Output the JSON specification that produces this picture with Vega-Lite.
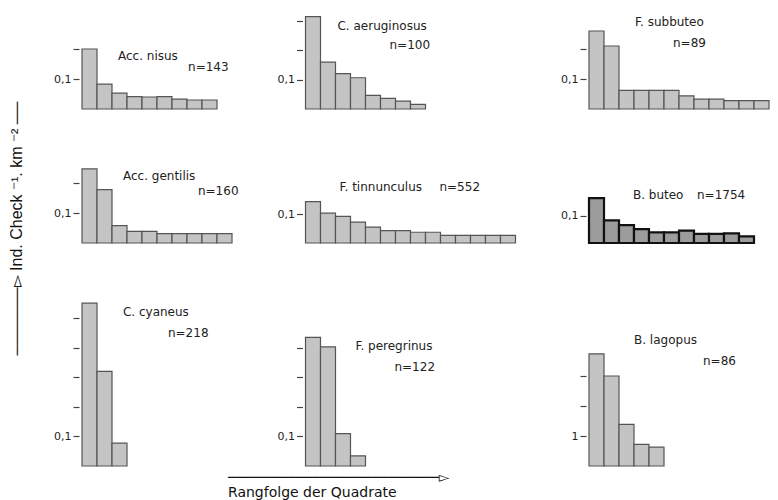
{
  "$schema": "https://vega.github.io/schema/vega-lite/v6.json",
  "background": "white",
  "padding": {"left": 8, "top": 10, "right": 5, "bottom": 2},
  "config": {
    "view": {"stroke": null},
    "font": "DejaVu Sans",
    "axis": {"domain": false, "grid": false, "tickColor": "#444", "tickSize": 6, "tickWidth": 1.2, "labelFont": "DejaVu Sans", "labelFontSize": 11, "labelColor": "#222", "labelPadding": 2, "offset": 3},
    "text": {"font": "DejaVu Sans", "fontSize": 12, "color": "#222", "align": "left", "baseline": "alphabetic"},
    "bar": {"fill": "#c4c4c4", "stroke": "#555", "strokeWidth": 1.2}
  },
  "datasets": {
    "bars": [
      {"sp": "Acc. nisus", "rank": 1, "v": 0.2},
      {"sp": "Acc. nisus", "rank": 2, "v": 0.083},
      {"sp": "Acc. nisus", "rank": 3, "v": 0.053},
      {"sp": "Acc. nisus", "rank": 4, "v": 0.041},
      {"sp": "Acc. nisus", "rank": 5, "v": 0.04},
      {"sp": "Acc. nisus", "rank": 6, "v": 0.041},
      {"sp": "Acc. nisus", "rank": 7, "v": 0.033},
      {"sp": "Acc. nisus", "rank": 8, "v": 0.03},
      {"sp": "Acc. nisus", "rank": 9, "v": 0.03},
      {"sp": "C. aeruginosus", "rank": 1, "v": 0.313},
      {"sp": "C. aeruginosus", "rank": 2, "v": 0.159},
      {"sp": "C. aeruginosus", "rank": 3, "v": 0.12},
      {"sp": "C. aeruginosus", "rank": 4, "v": 0.106},
      {"sp": "C. aeruginosus", "rank": 5, "v": 0.046},
      {"sp": "C. aeruginosus", "rank": 6, "v": 0.036},
      {"sp": "C. aeruginosus", "rank": 7, "v": 0.027},
      {"sp": "C. aeruginosus", "rank": 8, "v": 0.016},
      {"sp": "F. subbuteo", "rank": 1, "v": 0.26},
      {"sp": "F. subbuteo", "rank": 2, "v": 0.21},
      {"sp": "F. subbuteo", "rank": 3, "v": 0.062},
      {"sp": "F. subbuteo", "rank": 4, "v": 0.062},
      {"sp": "F. subbuteo", "rank": 5, "v": 0.062},
      {"sp": "F. subbuteo", "rank": 6, "v": 0.062},
      {"sp": "F. subbuteo", "rank": 7, "v": 0.044},
      {"sp": "F. subbuteo", "rank": 8, "v": 0.033},
      {"sp": "F. subbuteo", "rank": 9, "v": 0.033},
      {"sp": "F. subbuteo", "rank": 10, "v": 0.028},
      {"sp": "F. subbuteo", "rank": 11, "v": 0.028},
      {"sp": "F. subbuteo", "rank": 12, "v": 0.028},
      {"sp": "Acc. gentilis", "rank": 1, "v": 0.247},
      {"sp": "Acc. gentilis", "rank": 2, "v": 0.178},
      {"sp": "Acc. gentilis", "rank": 3, "v": 0.058},
      {"sp": "Acc. gentilis", "rank": 4, "v": 0.039},
      {"sp": "Acc. gentilis", "rank": 5, "v": 0.039},
      {"sp": "Acc. gentilis", "rank": 6, "v": 0.031},
      {"sp": "Acc. gentilis", "rank": 7, "v": 0.031},
      {"sp": "Acc. gentilis", "rank": 8, "v": 0.031},
      {"sp": "Acc. gentilis", "rank": 9, "v": 0.031},
      {"sp": "Acc. gentilis", "rank": 10, "v": 0.031},
      {"sp": "F. tinnunculus", "rank": 1, "v": 0.143},
      {"sp": "F. tinnunculus", "rank": 2, "v": 0.103},
      {"sp": "F. tinnunculus", "rank": 3, "v": 0.092},
      {"sp": "F. tinnunculus", "rank": 4, "v": 0.072},
      {"sp": "F. tinnunculus", "rank": 5, "v": 0.055},
      {"sp": "F. tinnunculus", "rank": 6, "v": 0.043},
      {"sp": "F. tinnunculus", "rank": 7, "v": 0.043},
      {"sp": "F. tinnunculus", "rank": 8, "v": 0.037},
      {"sp": "F. tinnunculus", "rank": 9, "v": 0.037},
      {"sp": "F. tinnunculus", "rank": 10, "v": 0.026},
      {"sp": "F. tinnunculus", "rank": 11, "v": 0.026},
      {"sp": "F. tinnunculus", "rank": 12, "v": 0.026},
      {"sp": "F. tinnunculus", "rank": 13, "v": 0.026},
      {"sp": "F. tinnunculus", "rank": 14, "v": 0.026},
      {"sp": "B. buteo", "rank": 1, "v": 0.164},
      {"sp": "B. buteo", "rank": 2, "v": 0.083},
      {"sp": "B. buteo", "rank": 3, "v": 0.065},
      {"sp": "B. buteo", "rank": 4, "v": 0.051},
      {"sp": "B. buteo", "rank": 5, "v": 0.039},
      {"sp": "B. buteo", "rank": 6, "v": 0.039},
      {"sp": "B. buteo", "rank": 7, "v": 0.045},
      {"sp": "B. buteo", "rank": 8, "v": 0.033},
      {"sp": "B. buteo", "rank": 9, "v": 0.033},
      {"sp": "B. buteo", "rank": 10, "v": 0.035},
      {"sp": "B. buteo", "rank": 11, "v": 0.024},
      {"sp": "C. cyaneus", "rank": 1, "v": 0.55},
      {"sp": "C. cyaneus", "rank": 2, "v": 0.32},
      {"sp": "C. cyaneus", "rank": 3, "v": 0.077},
      {"sp": "F. peregrinus", "rank": 1, "v": 0.436},
      {"sp": "F. peregrinus", "rank": 2, "v": 0.404},
      {"sp": "F. peregrinus", "rank": 3, "v": 0.11},
      {"sp": "F. peregrinus", "rank": 4, "v": 0.034},
      {"sp": "B. lagopus", "rank": 1, "v": 3.74},
      {"sp": "B. lagopus", "rank": 2, "v": 3.0},
      {"sp": "B. lagopus", "rank": 3, "v": 1.39},
      {"sp": "B. lagopus", "rank": 4, "v": 0.72},
      {"sp": "B. lagopus", "rank": 5, "v": 0.63}
    ],
    "labels": [
      {"sp": "Acc. nisus", "n": "n=143"},
      {"sp": "C. aeruginosus", "n": "n=100"},
      {"sp": "F. subbuteo", "n": "n=89"},
      {"sp": "Acc. gentilis", "n": "n=160"},
      {"sp": "F. tinnunculus", "n": "n=552"},
      {"sp": "B. buteo", "n": "n=1754"},
      {"sp": "C. cyaneus", "n": "n=218"},
      {"sp": "F. peregrinus", "n": "n=122"},
      {"sp": "B. lagopus", "n": "n=86"}
    ]
  },
  "columns": 3,
  "align": "each",
  "bounds": "flush",
  "spacing": {"row": 56, "column": 43.5},
  "concat": [
    {
      "width": 180, "height": 99,
      "resolve": {"scale": {"x": "independent"}},
      "layer": [
        {"data": {"name": "bars"}, "transform": [{"filter": "datum.sp === 'Acc. nisus'"}], "mark": "bar",
         "encoding": {
           "x": {"field": "rank", "type": "ordinal", "scale": {"domain": [1,2,3,4,5,6,7,8,9,10,11,12], "paddingInner": 0, "paddingOuter": 0}, "axis": null},
           "y": {"field": "v", "type": "quantitative", "scale": {"domain": [0, 0.33], "nice": false}, "axis": {"title": null, "values": [0.1, 0.2], "labelExpr": "datum.value === 0.1 ? '0,1' : ''"}}}},
        {"data": {"name": "labels"}, "transform": [{"filter": "datum.sp === 'Acc. nisus'"}], "mark": "text",
         "encoding": {"text": {"field": "sp"}, "x": {"datum": 2.4, "type": "quantitative", "scale": {"domain": [0, 12]}, "axis": null}, "y": {"datum": 0.162, "type": "quantitative"}}},
        {"data": {"name": "labels"}, "transform": [{"filter": "datum.sp === 'Acc. nisus'"}], "mark": "text",
         "encoding": {"text": {"field": "n"}, "x": {"datum": 7.07, "type": "quantitative", "scale": {"domain": [0, 12]}, "axis": null}, "y": {"datum": 0.127, "type": "quantitative"}}}
      ]
    },
    {
      "width": 240, "height": 99,
      "resolve": {"scale": {"x": "independent"}},
      "layer": [
        {"data": {"name": "bars"}, "transform": [{"filter": "datum.sp === 'C. aeruginosus'"}], "mark": "bar",
         "encoding": {
           "x": {"field": "rank", "type": "ordinal", "scale": {"domain": [1,2,3,4,5,6,7,8,9,10,11,12,13,14,15,16], "paddingInner": 0, "paddingOuter": 0}, "axis": null},
           "y": {"field": "v", "type": "quantitative", "scale": {"domain": [0, 0.3356], "nice": false}, "axis": {"title": null, "values": [0.1, 0.2, 0.3], "labelExpr": "datum.value === 0.1 ? '0,1' : ''"}}}},
        {"data": {"name": "labels"}, "transform": [{"filter": "datum.sp === 'C. aeruginosus'"}], "mark": "text",
         "encoding": {"text": {"field": "sp"}, "x": {"datum": 2.13, "type": "quantitative", "scale": {"domain": [0, 16]}, "axis": null}, "y": {"datum": 0.269, "type": "quantitative"}}},
        {"data": {"name": "labels"}, "transform": [{"filter": "datum.sp === 'C. aeruginosus'"}], "mark": "text",
         "encoding": {"text": {"field": "n"}, "x": {"datum": 5.6, "type": "quantitative", "scale": {"domain": [0, 16]}, "axis": null}, "y": {"datum": 0.204, "type": "quantitative"}}}
      ]
    },
    {
      "width": 180, "height": 99,
      "resolve": {"scale": {"x": "independent"}},
      "layer": [
        {"data": {"name": "bars"}, "transform": [{"filter": "datum.sp === 'F. subbuteo'"}], "mark": "bar",
         "encoding": {
           "x": {"field": "rank", "type": "ordinal", "scale": {"domain": [1,2,3,4,5,6,7,8,9,10,11,12], "paddingInner": 0, "paddingOuter": 0}, "axis": null},
           "y": {"field": "v", "type": "quantitative", "scale": {"domain": [0, 0.33], "nice": false}, "axis": {"title": null, "values": [0.1, 0.2], "labelExpr": "datum.value === 0.1 ? '0,1' : ''"}}}},
        {"data": {"name": "labels"}, "transform": [{"filter": "datum.sp === 'F. subbuteo'"}], "mark": "text",
         "encoding": {"text": {"field": "sp"}, "x": {"datum": 3.07, "type": "quantitative", "scale": {"domain": [0, 12]}, "axis": null}, "y": {"datum": 0.276, "type": "quantitative"}}},
        {"data": {"name": "labels"}, "transform": [{"filter": "datum.sp === 'F. subbuteo'"}], "mark": "text",
         "encoding": {"text": {"field": "n"}, "x": {"datum": 5.6, "type": "quantitative", "scale": {"domain": [0, 12]}, "axis": null}, "y": {"datum": 0.206, "type": "quantitative"}}}
      ]
    },
    {
      "width": 180, "height": 78,
      "resolve": {"scale": {"x": "independent"}},
      "layer": [
        {"data": {"name": "bars"}, "transform": [{"filter": "datum.sp === 'Acc. gentilis'"}], "mark": "bar",
         "encoding": {
           "x": {"field": "rank", "type": "ordinal", "scale": {"domain": [1,2,3,4,5,6,7,8,9,10,11,12], "paddingInner": 0, "paddingOuter": 0}, "axis": null},
           "y": {"field": "v", "type": "quantitative", "scale": {"domain": [0, 0.26], "nice": false}, "axis": {"title": "──────▻   Ind. Check ⁻¹. km ⁻²  ──", "titleFont": "Liberation Sans", "titleFontSize": 16, "titleFontWeight": "normal", "titleColor": "#111", "titlePadding": 29, "titleY": 63, "values": [0.1, 0.2], "labelExpr": "datum.value === 0.1 ? '0,1' : ''"}}}},
        {"data": {"name": "labels"}, "transform": [{"filter": "datum.sp === 'Acc. gentilis'"}], "mark": "text",
         "encoding": {"text": {"field": "sp"}, "x": {"datum": 2.73, "type": "quantitative", "scale": {"domain": [0, 12]}, "axis": null}, "y": {"datum": 0.211, "type": "quantitative"}}},
        {"data": {"name": "labels"}, "transform": [{"filter": "datum.sp === 'Acc. gentilis'"}], "mark": "text",
         "encoding": {"text": {"field": "n"}, "x": {"datum": 7.73, "type": "quantitative", "scale": {"domain": [0, 12]}, "axis": null}, "y": {"datum": 0.161, "type": "quantitative"}}}
      ]
    },
    {
      "width": 240, "height": 78,
      "resolve": {"scale": {"x": "independent"}},
      "layer": [
        {"data": {"name": "bars"}, "transform": [{"filter": "datum.sp === 'F. tinnunculus'"}], "mark": "bar",
         "encoding": {
           "x": {"field": "rank", "type": "ordinal", "scale": {"domain": [1,2,3,4,5,6,7,8,9,10,11,12,13,14,15,16], "paddingInner": 0, "paddingOuter": 0}, "axis": null},
           "y": {"field": "v", "type": "quantitative", "scale": {"domain": [0, 0.269], "nice": false}, "axis": {"title": null, "values": [0.1], "labelExpr": "datum.value === 0.1 ? '0,1' : ''"}}}},
        {"data": {"name": "labels"}, "transform": [{"filter": "datum.sp === 'F. tinnunculus'"}], "mark": "text",
         "encoding": {"text": {"field": "sp"}, "x": {"datum": 2.27, "type": "quantitative", "scale": {"domain": [0, 16]}, "axis": null}, "y": {"datum": 0.18, "type": "quantitative"}}},
        {"data": {"name": "labels"}, "transform": [{"filter": "datum.sp === 'F. tinnunculus'"}], "mark": "text",
         "encoding": {"text": {"field": "n"}, "x": {"datum": 8.93, "type": "quantitative", "scale": {"domain": [0, 16]}, "axis": null}, "y": {"datum": 0.18, "type": "quantitative"}}}
      ]
    },
    {
      "width": 180, "height": 78,
      "resolve": {"scale": {"x": "independent"}},
      "layer": [
        {"data": {"name": "bars"}, "transform": [{"filter": "datum.sp === 'B. buteo'"}], "mark": {"type": "bar", "fill": "#9c9c9c", "stroke": "#111", "strokeWidth": 2.2},
         "encoding": {
           "x": {"field": "rank", "type": "ordinal", "scale": {"domain": [1,2,3,4,5,6,7,8,9,10,11,12], "paddingInner": 0, "paddingOuter": 0}, "axis": null},
           "y": {"field": "v", "type": "quantitative", "scale": {"domain": [0, 0.285], "nice": false}, "axis": {"title": null, "values": [0.1], "labelExpr": "datum.value === 0.1 ? '0,1' : ''"}}}},
        {"data": {"name": "labels"}, "transform": [{"filter": "datum.sp === 'B. buteo'"}], "mark": "text",
         "encoding": {"text": {"field": "sp"}, "x": {"datum": 2.93, "type": "quantitative", "scale": {"domain": [0, 12]}, "axis": null}, "y": {"datum": 0.16, "type": "quantitative"}}},
        {"data": {"name": "labels"}, "transform": [{"filter": "datum.sp === 'B. buteo'"}], "mark": "text",
         "encoding": {"text": {"field": "n"}, "x": {"datum": 7.2, "type": "quantitative", "scale": {"domain": [0, 12]}, "axis": null}, "y": {"datum": 0.16, "type": "quantitative"}}}
      ]
    },
    {
      "width": 180, "height": 167,
      "resolve": {"scale": {"x": "independent"}},
      "layer": [
        {"data": {"name": "bars"}, "transform": [{"filter": "datum.sp === 'C. cyaneus'"}], "mark": "bar",
         "encoding": {
           "x": {"field": "rank", "type": "ordinal", "scale": {"domain": [1,2,3,4,5,6,7,8,9,10,11,12], "paddingInner": 0, "paddingOuter": 0}, "axis": null},
           "y": {"field": "v", "type": "quantitative", "scale": {"domain": [0, 0.5642], "nice": false}, "axis": {"title": null, "values": [0.1, 0.2, 0.3, 0.4, 0.5], "labelExpr": "datum.value === 0.1 ? '0,1' : ''"}}}},
        {"data": {"name": "labels"}, "transform": [{"filter": "datum.sp === 'C. cyaneus'"}], "mark": "text",
         "encoding": {"text": {"field": "sp"}, "x": {"datum": 2.73, "type": "quantitative", "scale": {"domain": [0, 12]}, "axis": null}, "y": {"datum": 0.507, "type": "quantitative"}}},
        {"data": {"name": "labels"}, "transform": [{"filter": "datum.sp === 'C. cyaneus'"}], "mark": "text",
         "encoding": {"text": {"field": "n"}, "x": {"datum": 5.73, "type": "quantitative", "scale": {"domain": [0, 12]}, "axis": null}, "y": {"datum": 0.437, "type": "quantitative"}}}
      ]
    },
    {
      "width": 240, "height": 167,
      "resolve": {"scale": {"x": "independent"}},
      "layer": [
        {"data": {"name": "bars"}, "transform": [{"filter": "datum.sp === 'F. peregrinus'"}], "mark": "bar",
         "encoding": {
           "x": {"field": "rank", "type": "ordinal", "scale": {"domain": [1,2,3,4,5,6,7,8,9,10,11,12,13,14,15,16], "paddingInner": 0, "paddingOuter": 0},
                 "axis": {"labels": false, "ticks": false, "domain": false, "offset": 0, "title": ["─────────────────────────▻", "Rangfolge der Quadrate"], "titleFont": "DejaVu Sans", "titleFontSize": 14, "titleFontWeight": "normal", "titleColor": "#111", "titleAnchor": "start", "titleAlign": "left", "titleX": -78, "titlePadding": 4, "titleLineHeight": 15}},
           "y": {"field": "v", "type": "quantitative", "scale": {"domain": [0, 0.5661], "nice": false}, "axis": {"title": null, "values": [0.1, 0.2, 0.3, 0.4], "labelExpr": "datum.value === 0.1 ? '0,1' : ''"}}}},
        {"data": {"name": "labels"}, "transform": [{"filter": "datum.sp === 'F. peregrinus'"}], "mark": "text",
         "encoding": {"text": {"field": "sp"}, "x": {"datum": 3.33, "type": "quantitative", "scale": {"domain": [0, 16]}, "axis": null}, "y": {"datum": 0.394, "type": "quantitative"}}},
        {"data": {"name": "labels"}, "transform": [{"filter": "datum.sp === 'F. peregrinus'"}], "mark": "text",
         "encoding": {"text": {"field": "n"}, "x": {"datum": 5.93, "type": "quantitative", "scale": {"domain": [0, 16]}, "axis": null}, "y": {"datum": 0.323, "type": "quantitative"}}}
      ]
    },
    {
      "width": 180, "height": 167,
      "resolve": {"scale": {"x": "independent"}},
      "layer": [
        {"data": {"name": "bars"}, "transform": [{"filter": "datum.sp === 'B. lagopus'"}], "mark": "bar",
         "encoding": {
           "x": {"field": "rank", "type": "ordinal", "scale": {"domain": [1,2,3,4,5,6,7,8,9,10,11,12], "paddingInner": 0, "paddingOuter": 0}, "axis": null},
           "y": {"field": "v", "type": "quantitative", "scale": {"domain": [0, 5.567], "nice": false}, "axis": {"title": null, "values": [1, 2, 3], "labelExpr": "datum.value === 1 ? '1' : ''"}}}},
        {"data": {"name": "labels"}, "transform": [{"filter": "datum.sp === 'B. lagopus'"}], "mark": "text",
         "encoding": {"text": {"field": "sp"}, "x": {"datum": 3.0, "type": "quantitative", "scale": {"domain": [0, 12]}, "axis": null}, "y": {"datum": 4.07, "type": "quantitative"}}},
        {"data": {"name": "labels"}, "transform": [{"filter": "datum.sp === 'B. lagopus'"}], "mark": "text",
         "encoding": {"text": {"field": "n"}, "x": {"datum": 7.6, "type": "quantitative", "scale": {"domain": [0, 12]}, "axis": null}, "y": {"datum": 3.37, "type": "quantitative"}}}
      ]
    }
  ]
}
